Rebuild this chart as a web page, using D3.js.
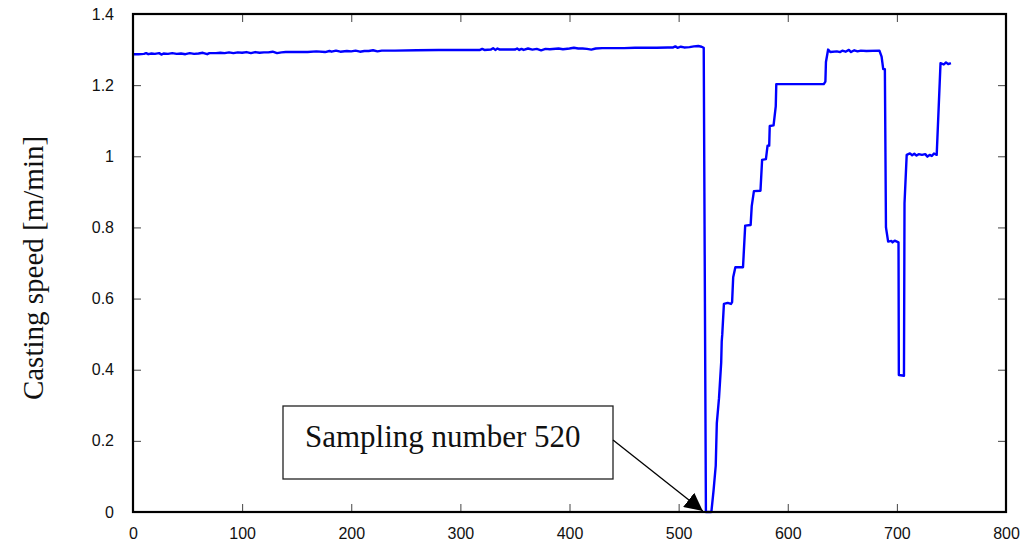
<!DOCTYPE html>
<html>
<head>
<meta charset="utf-8">
<script src="https://cdn.jsdelivr.net/npm/d3@7"></script>
<style>
  html, body { margin: 0; padding: 0; background: #fff; }
  svg { display: block; }
</style>
</head>
<body>
<svg id="chart" width="1020" height="541"></svg>
<script>
// ---- data ----
const sampleIndex = [
  0,5,10,12,14,17,20,24,26,28,32,36,40,44,48,52,56,60,64,68,70,76,80,84,88,92,96,100,
  104,108,112,116,120,124,128,132,136,140,150,160,168,176,180,182,186,190,196,200,204,
  208,212,216,220,224,228,232,240,260,280,300,318,320,322,328,330,332,334,336,340,350,
  352,354,356,358,362,366,370,374,378,382,390,394,400,404,408,412,416,420,424,430,440,
  450,460,470,480,490,495,497,499,502,505,510,514,518,521,523,525,527,530,532,534,535,
  537,538,539,539.5,540,541.5,545,548,549,550,552,559,561,566,567,569,575,576.5,580,581.5,
  583,583.5,587,589,589.5,633,634.5,635,637,639,645,648,650,653,656,658,661,664,667,672,
  684,686,687.5,689,690,692,695,696,698,701.5,701.8,706.5,707,709,712,714,716,718,720,
  723,726,728,730,732,734,736.5,740,743,745,747,749.5
];
const castingSpeed = [
  1.287,1.287,1.288,1.290,1.287,1.289,1.288,1.290,1.286,1.289,1.288,1.290,1.288,1.289,
  1.287,1.290,1.288,1.289,1.291,1.287,1.290,1.290,1.291,1.290,1.292,1.290,1.292,1.291,
  1.293,1.290,1.293,1.291,1.292,1.292,1.294,1.290,1.292,1.293,1.293,1.293,1.295,1.293,
  1.296,1.294,1.297,1.294,1.296,1.295,1.297,1.294,1.296,1.296,1.298,1.295,1.297,1.297,
  1.297,1.298,1.299,1.299,1.299,1.302,1.299,1.300,1.304,1.299,1.303,1.300,1.300,1.300,
  1.303,1.299,1.302,1.299,1.303,1.300,1.302,1.298,1.302,1.301,1.303,1.301,1.303,1.305,
  1.303,1.303,1.302,1.300,1.303,1.304,1.304,1.304,1.305,1.305,1.305,1.306,1.306,1.309,
  1.305,1.308,1.306,1.307,1.309,1.310,1.308,1.305,0.0,0.0,0.0,0.06,0.13,0.25,
  0.32,0.37,0.42,0.48,0.50,0.585,0.588,0.585,0.590,0.66,0.688,0.688,0.805,0.807,0.86,
  0.902,0.903,0.99,0.992,1.03,1.03,1.085,1.087,1.14,1.203,1.203,1.21,1.265,1.30,1.293,
  1.295,1.293,1.297,1.294,1.299,1.293,1.298,1.295,1.297,1.296,1.297,1.28,1.245,1.245,
  0.80,0.76,0.762,0.758,0.763,0.758,0.385,0.383,0.868,1.004,1.008,1.003,1.007,1.002,
  1.006,1.004,1.006,0.999,1.004,1.001,1.008,1.004,1.262,1.258,1.264,1.259,1.262
];
const xTicks = [0,100,200,300,400,500,600,700,800];
const yTicks = [0,0.2,0.4,0.6,0.8,1,1.2,1.4];
const yTitle = "Casting speed [m/min]";
const noteText = "Sampling number 520";
const noteTarget = 524;   // sampling number pointed at

// ---- layout ----
const svg = d3.select("#chart");
const L = 133, R = 1006, T = 14, B = 512;
const x = d3.scaleLinear().domain([0, 800]).range([L, R]);
const y = d3.scaleLinear().domain([0, 1.4]).range([B, T]);

const tickFmt = d => d === 1 ? "1" : d3.format("~g")(d);

// bottom axis
const gx = svg.append("g").attr("transform", `translate(0,${B})`)
  .call(d3.axisBottom(x).tickValues(xTicks).tickSize(-8).tickPadding(16).tickFormat(tickFmt));
// left axis
const gy = svg.append("g").attr("transform", `translate(${L},0)`)
  .call(d3.axisLeft(y).tickValues(yTicks).tickSize(-8).tickPadding(19).tickFormat(tickFmt));
// top and right ticks
const gt = svg.append("g").attr("transform", `translate(0,${T})`)
  .call(d3.axisTop(x).tickValues(xTicks).tickSize(-8).tickFormat(""));
const gr = svg.append("g").attr("transform", `translate(${R},0)`)
  .call(d3.axisRight(y).tickValues(yTicks).tickSize(-8).tickFormat(""));

[gx, gy, gt, gr].forEach(g => {
  g.select(".domain").remove();
  g.selectAll(".tick line").attr("stroke", "#444").attr("stroke-width", 1);
  g.selectAll(".tick text").attr("font-family", "Liberation Sans, Arial, sans-serif")
    .attr("font-size", 16).attr("fill", "#111");
});

// data line
const line = d3.line().x((d, i) => x(sampleIndex[i])).y((d, i) => y(castingSpeed[i]));
svg.append("path")
  .datum(castingSpeed)
  .attr("d", line)
  .attr("fill", "none")
  .attr("stroke", "#0000ff")
  .attr("stroke-width", 2.4)
  .attr("stroke-linejoin", "round");

// frame
svg.append("rect")
  .attr("x", L).attr("y", T).attr("width", R - L).attr("height", B - T)
  .attr("fill", "none").attr("stroke", "#000").attr("stroke-width", 2.2);

// y title
svg.append("text")
  .attr("transform", `translate(43,268) rotate(-90)`)
  .attr("text-anchor", "middle")
  .attr("font-family", "Liberation Serif, Times New Roman, serif")
  .attr("font-size", 29)
  .attr("fill", "#111")
  .text(yTitle);

// annotation box
const bx = 283, by = 406, bw = 330, bh = 73;
svg.append("rect")
  .attr("x", bx).attr("y", by).attr("width", bw).attr("height", bh)
  .attr("fill", "#fff").attr("stroke", "#222").attr("stroke-width", 1.3);
svg.append("text")
  .attr("x", bx + 22).attr("y", by + 41)
  .attr("font-family", "Liberation Serif, Times New Roman, serif")
  .attr("font-size", 31)
  .attr("fill", "#111")
  .text(noteText);

// arrow
svg.append("defs").append("marker")
  .attr("id", "arrow")
  .attr("viewBox", "0 0 10 10")
  .attr("refX", 10).attr("refY", 5)
  .attr("markerWidth", 18).attr("markerHeight", 18)
  .attr("markerUnits", "userSpaceOnUse")
  .attr("orient", "auto")
  .append("path").attr("d", "M0,0 L10,5 L0,10 z").attr("fill", "#000");
svg.append("line")
  .attr("x1", bx + bw).attr("y1", by + 34)
  .attr("x2", x(noteTarget) - 2).attr("y2", B - 1)
  .attr("stroke", "#000").attr("stroke-width", 1.3)
  .attr("marker-end", "url(#arrow)");
</script>
</body>
</html>
